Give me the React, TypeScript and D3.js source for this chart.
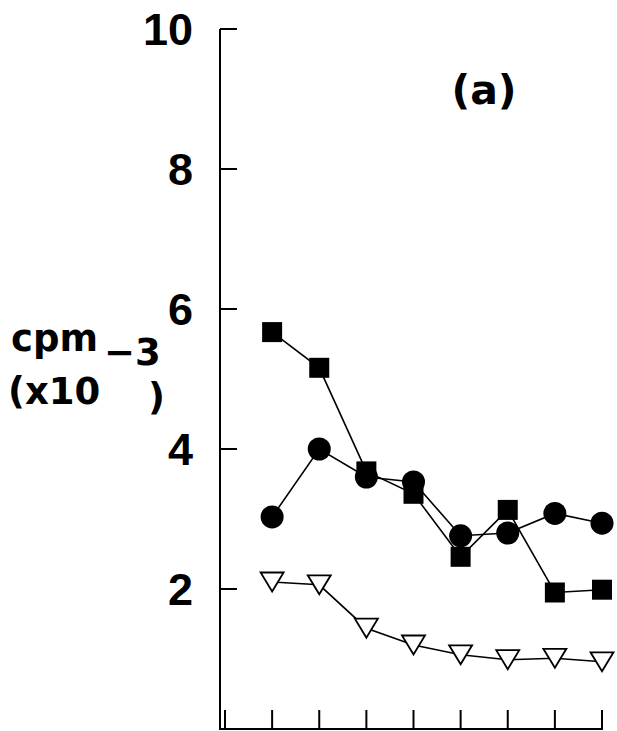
import React from "react";
import * as d3 from "d3";

const xIndex = [1, 2, 3, 4, 5, 6, 7, 8];
const squares = [5.67, 5.16, 3.68, 3.36, 2.46, 3.13, 1.95, 1.99];
const circles = [3.03, 4.0, 3.6, 3.53, 2.76, 2.8, 3.08, 2.94];
const triangles = [2.1, 2.06, 1.44, 1.2, 1.06, 0.99, 1.01, 0.96];
const yTicks = [2, 4, 6, 8, 10];
const xTicks = [0, 1, 2, 3, 4, 5, 6, 7, 8];

export default function App() {
  const W = 617, H = 731;
  const axisX = 220;
  const y = d3.scaleLinear().domain([0, 10]).range([729, 29]);
  const x = d3.scaleLinear().domain([0, 8]).range([225, 602]);
  const line = d3.line<number>().x((_, i) => x(xIndex[i])).y((d) => y(d));
  const font = "'Liberation Sans', Arial, sans-serif";
  const font2 = "'DejaVu Sans', sans-serif";
  const triPath = (cx: number, cy: number) => {
    const w = 11.5, h = 19;
    return `M${cx - w},${cy - h / 2}L${cx + w},${cy - h / 2}L${cx},${cy + h / 2}Z`;
  };
  return (
    <svg width={W} height={H} style={{ position: "absolute", left: 0, top: 0, background: "#fff" }}>
      <rect width={W} height={H} fill="#fff" />
      {/* axes */}
      <line x1={axisX} x2={axisX} y1={y(10)} y2={y(0) + 1} stroke="#000" strokeWidth={2} />
      <line x1={axisX} x2={x(8) + 1} y1={y(0)} y2={y(0)} stroke="#000" strokeWidth={2} />
      {yTicks.map((t) => (
        <g key={t}>
          <line x1={axisX} x2={axisX + 17} y1={y(t)} y2={y(t)} stroke="#000" strokeWidth={2} />
          <text x={193} y={y(t)} dy="0.36em" textAnchor="end" fontFamily={font} fontWeight="bold" fontSize={45}>
            {t}
          </text>
        </g>
      ))}
      {xTicks.map((t) => (
        <line key={t} x1={x(t)} x2={x(t)} y1={y(0)} y2={y(0) - 19} stroke="#000" strokeWidth={2} />
      ))}
      {/* y label */}
      <text fontFamily={font2} fontWeight="bold" fontSize={37}>
        <tspan x={11} y={351}>cpm</tspan>
        <tspan x={104} y={365}>−3</tspan>
        <tspan x={8} y={404}>(x10</tspan>
        <tspan x={148} y={410}>)</tspan>
      </text>
      {/* panel label */}
      <text x={484} y={104} textAnchor="middle" fontFamily={font2} fontWeight="bold" fontSize={41}>(a)</text>
      {/* lines */}
      <path d={line(triangles) || ""} fill="none" stroke="#000" strokeWidth={1.6} />
      <path d={line(circles) || ""} fill="none" stroke="#000" strokeWidth={1.6} />
      <path d={line(squares) || ""} fill="none" stroke="#000" strokeWidth={1.6} />
      {/* markers */}
      {triangles.map((v, i) => (
        <path key={"t" + i} d={triPath(x(xIndex[i]), y(v))} fill="#fff" stroke="#000" strokeWidth={1.8} />
      ))}
      {squares.map((v, i) => (
        <rect key={"s" + i} x={x(xIndex[i]) - 10} y={y(v) - 10} width={20} height={20} fill="#000" />
      ))}
      {circles.map((v, i) => (
        <circle key={"c" + i} cx={x(xIndex[i])} cy={y(v)} r={11.5} fill="#000" />
      ))}
    </svg>
  );
}
